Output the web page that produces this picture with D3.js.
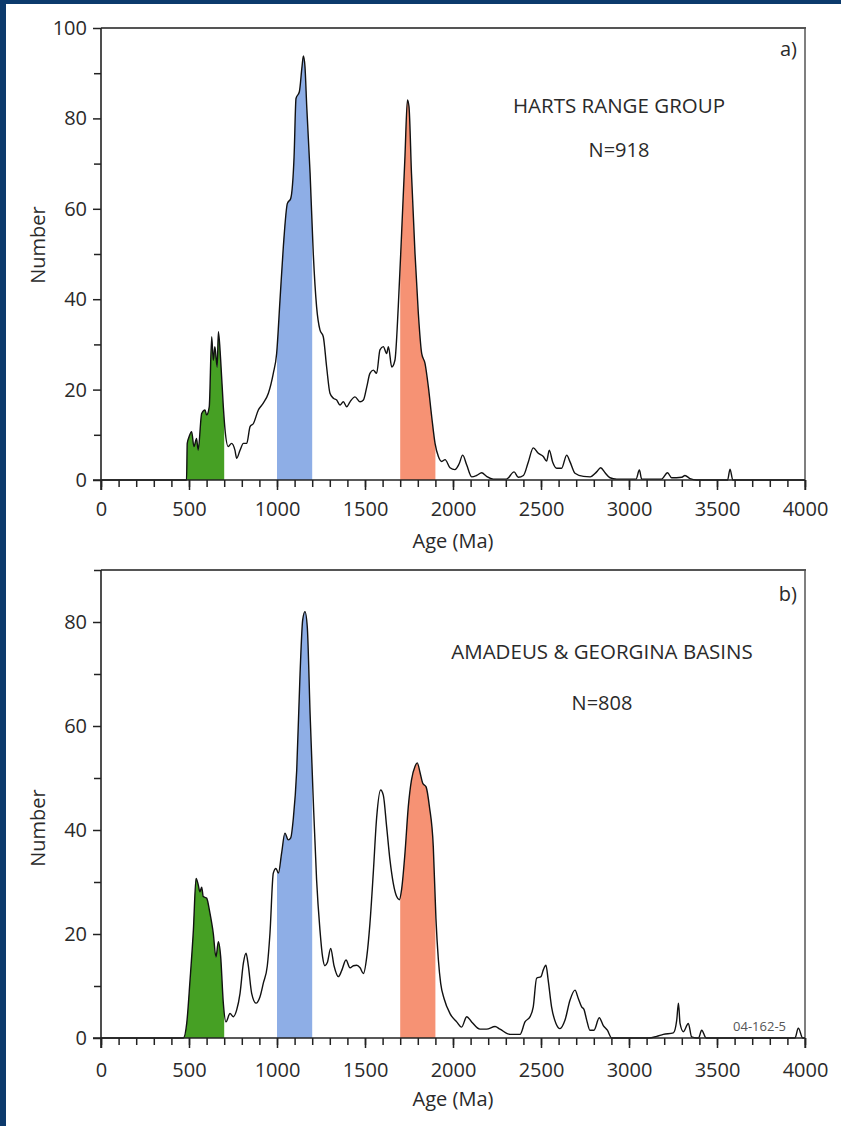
<!DOCTYPE html>
<html>
<head>
<meta charset="utf-8">
<script src="https://cdn.jsdelivr.net/npm/d3@7/dist/d3.min.js"></script>
<style>
  body { margin: 0; background: #fff; }
  svg { display: block; }
  .tick text { font-family: "Open Sans", sans-serif; font-size: 20px; fill: #2a2a2a; }
  .lbl { font-family: "Open Sans", sans-serif; fill: #2a2a2a; }
</style>
</head>
<body>
<svg id="chart" width="841" height="1126"></svg>
<script>
// age (Ma) vs number
var hartsRange = [[0,0],[486,0],[490,8.1],[500,9.5],[515,10.7],[528,7.4],[543,9.2],[552,6.6],[572,14.7],[591,15.5],[600,14.4],[615,16.2],
  [629,31.7],[638,26.5],[647,29.5],[660,25],[667,32.8],[680,26.5],[695,16.2],[705,11],[723,7.4],[742,8.1],[761,6.6],[771,4.8],
  [790,6.6],[809,8.1],[828,8.1],[847,11.8],[866,12.5],[894,15.5],[922,17],[951,19.2],[979,23.6],[998,28],[1017,39.8],[1036,51.6],
  [1059,61.2],[1078,62.3],[1097,71.5],[1108,84.4],[1127,85.9],[1142,91.4],[1150,93.8],[1159,91.4],[1169,82.6],[1188,67.9],
  [1206,50.2],[1225,38.3],[1244,33.2],[1263,31.7],[1282,25],[1301,19.2],[1320,18.1],[1339,17.7],[1358,16.6],[1377,17.3],
  [1396,16.2],[1415,17.3],[1443,18.4],[1472,17.3],[1491,17.7],[1510,20.6],[1528,23.6],[1547,24.3],[1566,23.6],[1585,28.8],
  [1604,29.5],[1623,28],[1633,29.5],[1652,25],[1670,26.5],[1689,38.3],[1708,54.6],[1727,71.5],[1741,84.1],[1750,82.6],
  [1764,67.9],[1784,50.2],[1803,36.9],[1822,28],[1841,25.8],[1860,20.6],[1879,14],[1898,8.1],[1917,5.2],[1936,4.1],[1955,4.5],
  [1983,2.7],[2011,2.3],[2035,3.6],[2055,5.5],[2078,3.3],[2106,0.7],[2134,1],[2163,1.6],[2191,0.8],[2229,0.2],[2304,0.2],
  [2347,1.8],[2371,0.6],[2400,1],[2428,4],[2456,7.1],[2485,5.9],[2513,5.2],[2532,4.2],[2547,6.6],[2566,4],[2589,2.6],[2617,2.6],
  [2646,5.5],[2665,4],[2693,1.5],[2741,0.8],[2779,0.7],[2816,1.8],[2839,2.7],[2864,1.6],[2892,0.5],[2930,0.2],[3040,0.2],
  [3059,2.2],[3072,0.2],[3185,0.2],[3219,1.6],[3242,0.5],[3270,0.5],[3300,0.6],[3318,1],[3347,0.3],[3385,0],[3560,0],
  [3574,2.4],[3590,0],[4000,0]];

var amadeusGeorgina = [[0,0],[468,0],[487,2.8],[506,11.2],[525,20.8],[540,30.7],[553,29.4],[562,28.1],[572,29],[581,27.2],
  [600,26.9],[619,24],[638,20.1],[653,15.6],[667,18.5],[680,15.6],[695,6.7],[710,3.1],[733,4.7],[752,4.1],[771,5.4],[790,8.6],
  [809,14.4],[824,16.3],[837,13.9],[856,8.6],[881,6.7],[903,7.9],[922,10.5],[945,13.9],[960,20.1],[979,31.7],[994,32.6],
  [1008,31.7],[1026,35.5],[1045,39.4],[1064,38.1],[1078,38.5],[1093,42.3],[1112,51.5],[1131,70.1],[1146,80.4],[1159,82],
  [1172,79.1],[1188,62.4],[1206,45.8],[1225,30.4],[1244,20.8],[1259,15.6],[1272,13.9],[1286,14.5],[1305,17.2],[1324,13.9],
  [1349,11.8],[1368,13],[1392,15],[1415,13.5],[1434,13.9],[1453,14],[1472,13.5],[1491,12.4],[1510,15.6],[1528,22],[1547,31.7],
  [1566,42.3],[1589,47.7],[1604,46.7],[1623,40.6],[1642,34.2],[1661,29.7],[1680,27.2],[1695,26.6],[1708,28.6],[1727,35.5],
  [1746,44.5],[1764,49.6],[1784,52.2],[1797,52.9],[1813,51],[1828,49],[1847,48.3],[1866,44.5],[1888,36.8],[1903,23],[1917,15],
  [1930,10.5],[1950,7.5],[1983,4.7],[2021,3.1],[2049,2.1],[2078,4.1],[2106,3.1],[2153,1.7],[2191,1.7],[2239,2.2],[2267,1.7],
  [2324,0.7],[2381,0.7],[2409,3.1],[2438,4.1],[2456,6],[2475,11.5],[2500,11.8],[2513,13.1],[2528,14],[2541,11.1],[2560,6],
  [2585,2.8],[2608,1.8],[2636,3.4],[2665,7.3],[2693,9.2],[2712,7.6],[2731,6],[2744,5.5],[2760,3.4],[2778,1.5],[2801,1.5],
  [2831,3.9],[2854,2.4],[2877,1.5],[2902,0],[3110,0],[3157,0.3],[3195,0.7],[3252,1],[3271,3.4],[3281,6.7],[3290,2.8],
  [3309,1.2],[3337,2.8],[3356,0.2],[3384,0],[3395,0],[3413,1.5],[3438,0],[3943,0],[3962,1.9],[3987,0],[4000,0]];

var bandRanges = [[450,700],[1000,1200],[1700,1900]];
var bandColors = ["#46a024","#8eaee6","#f69274"];

var xMajorTicks = [0,500,1000,1500,2000,2500,3000,3500,4000];
var xMinorTicks = d3.range(0, 4001, 100);
var yMajorTicksA = [0,20,40,60,80,100];
var yMajorTicksB = [0,20,40,60,80];

var panelTitles = ["HARTS RANGE GROUP", "AMADEUS & GEORGINA BASINS"];
var panelN = ["N=918", "N=808"];
var panelLetters = ["a)", "b)"];

// layout of the two panels
var panels = [
  { data: hartsRange, yMax: 100, yMajor: yMajorTicksA, top: 28, bottom: 480,
    letterY: 56, titleX: 619, titleY: 113, nY: 157, numberY: 245, ageY: 548, pad: 12 },
  { data: amadeusGeorgina, yMax: 90, yMajor: yMajorTicksB, top: 570, bottom: 1038,
    letterY: 601, titleX: 602, titleY: 659, nY: 710, numberY: 828, ageY: 1106, pad: 15 }
];

var left = 101, right = 805;
var svg = d3.select("#chart");

// dark blue frame of the figure
svg.append("rect").attr("x", 0).attr("y", 0).attr("width", 841).attr("height", 4).attr("fill", "#0c3a6c");
svg.append("rect").attr("x", 0).attr("y", 0).attr("width", 6).attr("height", 1126).attr("fill", "#0c3a6c");

var x = d3.scaleLinear().domain([0, 4000]).range([left, right]);

panels.forEach(function(p, i) {
  var y = d3.scaleLinear().domain([0, p.yMax]).range([p.bottom, p.top]);
  var g = svg.append("g");

  var area = d3.area()
               .x(function(d) { return x(d[0]); })
               .y0(y(0))
               .y1(function(d) { return y(d[1]); })
               .curve(d3.curveMonotoneX);
  var line = d3.line()
               .x(function(d) { return x(d[0]); })
               .y(function(d) { return y(d[1]); })
               .curve(d3.curveMonotoneX);

  // coloured age bands = area under curve clipped to range
  bandRanges.forEach(function(b, j) {
    var id = "clip" + i + "_" + j;
    g.append("clipPath").attr("id", id)
     .append("rect")
     .attr("x", x(b[0]))
     .attr("y", p.top)
     .attr("width", x(b[1]) - x(b[0]))
     .attr("height", p.bottom - p.top);
    g.append("path")
     .datum(p.data)
     .attr("d", area)
     .attr("fill", bandColors[j])
     .attr("clip-path", "url(#" + id + ")");
  });

  g.append("path")
   .datum(p.data)
   .attr("d", line)
   .attr("fill", "none")
   .attr("stroke", "#111")
   .attr("stroke-width", 1.4)
   .attr("stroke-linejoin", "round");

  // frame top + right
  g.append("line").attr("x1", left).attr("x2", right + 1).attr("y1", p.top).attr("y2", p.top)
   .attr("stroke", "#555").attr("stroke-width", 2);
  g.append("line").attr("x1", right).attr("x2", right).attr("y1", p.top).attr("y2", p.bottom + 10)
   .attr("stroke", "#555").attr("stroke-width", 1.5);

  // x axis
  var xMinor = g.append("g").attr("transform", "translate(0," + p.bottom + ")")
                .call(d3.axisBottom(x).tickValues(xMinorTicks).tickSize(7).tickFormat(""));
  var xMajor = g.append("g").attr("transform", "translate(0," + p.bottom + ")")
                .call(d3.axisBottom(x).tickValues(xMajorTicks).tickSize(10).tickPadding(p.pad)
                        .tickFormat(d3.format("d")));
  xMinor.select(".domain").remove();
  xMajor.select(".domain").attr("d", "M" + (left - 8) + ",0H" + right);

  // y axis
  var yMinorTicks = d3.range(10, p.yMax + 1, 20);
  var yMinor = g.append("g").attr("transform", "translate(" + left + ",0)")
                .call(d3.axisLeft(y).tickValues(yMinorTicks).tickSize(7).tickFormat(""));
  var yMajor = g.append("g").attr("transform", "translate(" + left + ",0)")
                .call(d3.axisLeft(y).tickValues(p.yMajor).tickSize(8).tickPadding(6)
                        .tickFormat(d3.format("d")));
  yMinor.select(".domain").remove();
  yMajor.select(".domain").attr("d", "M0," + p.top + "V" + (p.bottom + 10));

  g.selectAll(".tick line").attr("stroke", "#222").attr("stroke-width", 1.5);
  g.selectAll(".domain").attr("stroke", "#222").attr("stroke-width", 1.6);

  // labels
  g.append("text").attr("class", "lbl")
   .attr("x", 797).attr("y", p.letterY)
   .attr("text-anchor", "end").style("font-size", "20px")
   .text(panelLetters[i]);
  g.append("text").attr("class", "lbl")
   .attr("x", p.titleX).attr("y", p.titleY)
   .attr("text-anchor", "middle").style("font-size", "20.5px")
   .text(panelTitles[i]);
  g.append("text").attr("class", "lbl")
   .attr("x", p.titleX).attr("y", p.nY)
   .attr("text-anchor", "middle").style("font-size", "20px")
   .text(panelN[i]);
  g.append("text").attr("class", "lbl")
   .attr("transform", "translate(45," + p.numberY + ") rotate(-90)")
   .attr("text-anchor", "middle").style("font-size", "20px")
   .text("Number");
  g.append("text").attr("class", "lbl")
   .attr("x", (left + right) / 2).attr("y", p.ageY)
   .attr("text-anchor", "middle").style("font-size", "20px")
   .text("Age (Ma)");
});

// figure code
svg.append("text").attr("class", "lbl")
   .attr("x", 786).attr("y", 1031)
   .attr("text-anchor", "end").style("font-size", "13px").style("fill", "#555")
   .text("04-162-5");
</script>
</body>
</html>
